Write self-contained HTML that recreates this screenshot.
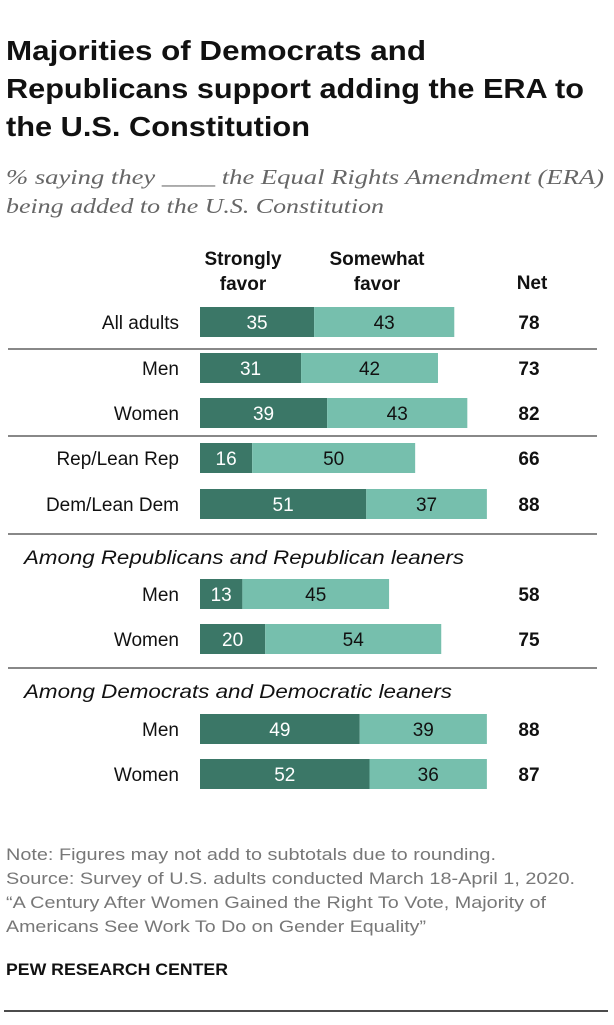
<!DOCTYPE html>
<html><head><meta charset="utf-8"><style>
body{margin:0;background:#fff;width:614px;height:1020px;overflow:hidden;font-family:"Liberation Sans",sans-serif}
</style></head><body>
<svg width="614" height="1020" viewBox="0 0 614 1020" xmlns="http://www.w3.org/2000/svg">
<g font-family="Liberation Sans, sans-serif">
<text x="6" y="60" font-size="28" font-weight="bold" fill="#111" textLength="420" lengthAdjust="spacingAndGlyphs">Majorities of Democrats and</text>
<text x="6" y="98" font-size="28" font-weight="bold" fill="#111" textLength="578" lengthAdjust="spacingAndGlyphs">Republicans support adding the ERA to</text>
<text x="6" y="136" font-size="28" font-weight="bold" fill="#111" textLength="304" lengthAdjust="spacingAndGlyphs">the U.S. Constitution</text>
<text x="6" y="184" font-size="21" font-style="italic" fill="#666" font-family="Liberation Serif, serif" textLength="598" lengthAdjust="spacingAndGlyphs">% saying they ____ the Equal Rights Amendment (ERA)</text>
<text x="6" y="213" font-size="21" font-style="italic" fill="#666" font-family="Liberation Serif, serif" textLength="378" lengthAdjust="spacingAndGlyphs">being added to the U.S. Constitution</text>
<text x="243" y="265" font-size="19" font-weight="bold" text-anchor="middle" fill="#111">Strongly</text>
<text x="243" y="290" font-size="19" font-weight="bold" text-anchor="middle" fill="#111">favor</text>
<text x="377" y="265" font-size="19" font-weight="bold" text-anchor="middle" fill="#111">Somewhat</text>
<text x="377" y="290" font-size="19" font-weight="bold" text-anchor="middle" fill="#111">favor</text>
<text x="532" y="289" font-size="19" font-weight="bold" text-anchor="middle" fill="#111">Net</text>
</g>
<g id="bars"></g>
<g font-family="Liberation Sans, sans-serif" font-size="17" fill="#777">
<text x="6" y="860" textLength="490" lengthAdjust="spacingAndGlyphs">Note: Figures may not add to subtotals due to rounding.</text>
<text x="6" y="884" textLength="569" lengthAdjust="spacingAndGlyphs">Source: Survey of U.S. adults conducted March 18-April 1, 2020.</text>
<text x="6" y="908" textLength="540" lengthAdjust="spacingAndGlyphs">“A Century After Women Gained the Right To Vote, Majority of</text>
<text x="6" y="932" textLength="420" lengthAdjust="spacingAndGlyphs">Americans See Work To Do on Gender Equality”</text>
<text x="6" y="975" fill="#111" font-weight="bold" textLength="222" lengthAdjust="spacingAndGlyphs">PEW RESEARCH CENTER</text>
</g>
<line x1="4" y1="1011" x2="608" y2="1011" stroke="#111" stroke-width="1.5"/>
</svg>
<script>
const labels=["All adults","Men","Women","Rep/Lean Rep","Dem/Lean Dem","Men","Women","Men","Women"];
const strongly=[35,31,39,16,51,13,20,49,52];
const somewhat=[43,42,43,50,37,45,54,39,36];
const net=[78,73,82,66,88,58,75,88,87];
const rowY=[322,368,413,458,504,594,639,729,774];
const sepY=[349,436,534,668];
const ns="http://www.w3.org/2000/svg";
const g=document.getElementById('bars');
const x0=200,k=3.26,bh=30;
function X(v){return x0+v*k;}
function mk(t,a){const e=document.createElementNS(ns,t);for(const n in a)e.setAttribute(n,a[n]);g.appendChild(e);return e;}
sepY.forEach(y=>{
const l=mk('line',{x1:8,y1:y,x2:597,y2:y,stroke:'#888','stroke-width':2});


});
const h1=mk('text',{x:24,y:564,'font-size':19,'font-style':'italic',fill:'#111','font-family':'Liberation Sans, sans-serif',textLength:440,lengthAdjust:'spacingAndGlyphs'});
h1.textContent='Among Republicans and Republican leaners';


const h2=mk('text',{x:24,y:698,'font-size':19,'font-style':'italic',fill:'#111','font-family':'Liberation Sans, sans-serif',textLength:428,lengthAdjust:'spacingAndGlyphs'});
h2.textContent='Among Democrats and Democratic leaners';


labels.forEach((lab,i)=>{
const y=rowY[i];
const t=mk('text',{x:179,y:y+7,'font-size':19,'text-anchor':'end',fill:'#111','font-family':'Liberation Sans, sans-serif'});
t.textContent=lab;


const r1=mk('rect',{x:X(0),y:y-bh/2,width:X(strongly[i])-X(0),height:bh,fill:'#3b7767'});


const r2=mk('rect',{x:X(strongly[i]),y:y-bh/2,width:X(strongly[i]+somewhat[i])-X(strongly[i]),height:bh,fill:'#76bfad'});


const v1=mk('text',{x:(X(0)+X(strongly[i]))/2,y:y+7,'font-size':19,'text-anchor':'middle',fill:'#fff','font-family':'Liberation Sans, sans-serif'});
v1.textContent=strongly[i];


const v2=mk('text',{x:(X(strongly[i])+X(strongly[i]+somewhat[i]))/2,y:y+7,'font-size':19,'text-anchor':'middle',fill:'#111','font-family':'Liberation Sans, sans-serif'});
v2.textContent=somewhat[i];


const n=mk('text',{x:529,y:y+7,'font-size':19,'font-weight':'bold','text-anchor':'middle',fill:'#111','font-family':'Liberation Sans, sans-serif'});
n.textContent=net[i];


});
</script>
</body></html>
